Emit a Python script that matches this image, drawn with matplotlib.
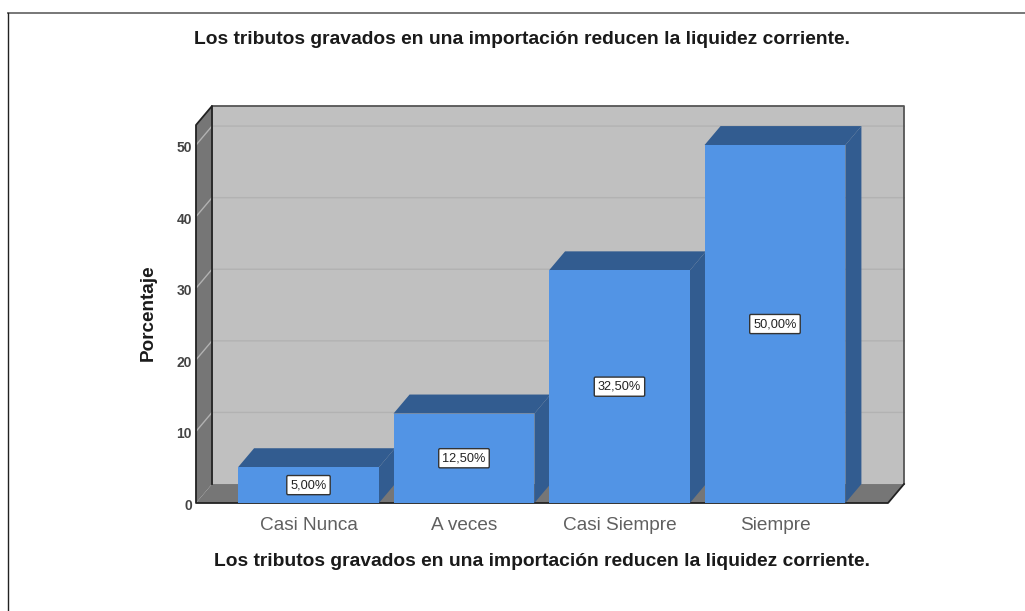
import matplotlib
matplotlib.use("Agg")
import matplotlib.pyplot as plt
from matplotlib.lines import Line2D
from matplotlib.patches import Polygon
from matplotlib.transforms import ScaledTranslation

plt.rcParams['font.family'] = ['Liberation Sans', 'DejaVu Sans']

categories = ["Casi Nunca", "A veces", "Casi Siempre", "Siempre"]
values = [5.0, 12.5, 32.5, 50.0]
bar_labels = ["5,00%", "12,50%", "32,50%", "50,00%"]
yticks = [0, 10, 20, 30, 40, 50]
title = "Los tributos gravados en una importación reducen la liquidez corriente."

W, H = 1025, 611
BLUE = "#5294e5"
DARK_BLUE = "#325c90"
WALL = "#c0c0c0"
SIDE = "#767676"

# depth of the fake 3D box, in data units
DX = 0.103
DY = 2.65
BAR_W = 0.906
XMIN, XMAX = -0.7235, 3.727
YMAX = 52.8

fig = plt.figure(figsize=(W / 100, H / 100), dpi=100)
ax = fig.add_axes([196 / W, 1 - 503 / H, 692 / W, 378 / H])
ax.set_xlim(XMIN, XMAX)
ax.set_ylim(0, YMAX)
ax.patch.set_visible(False)
for s in ax.spines.values():
    s.set_visible(False)


def poly(pts, color, z=1):
    ax.add_patch(Polygon(pts, closed=True, facecolor=color, edgecolor=color,
                         linewidth=0, zorder=z, clip_on=False))


# back wall, left wall, floor
poly([(XMIN + DX, DY), (XMAX + DX, DY), (XMAX + DX, YMAX + DY), (XMIN + DX, YMAX + DY)], WALL)
poly([(XMIN, 0), (XMIN + DX, DY), (XMIN + DX, YMAX + DY), (XMIN, YMAX)], SIDE)
poly([(XMIN, 0), (XMAX, 0), (XMAX + DX, DY), (XMIN + DX, DY)], SIDE)

# gridlines run along the side wall and then the back wall
for t in yticks[1:]:
    ax.plot([XMIN, XMIN + DX, XMAX + DX], [t, t + DY, t + DY], color="#b2b2b2", lw=1, zorder=2, clip_on=False)

# box outline, the left and bottom edges are darker than the top and right
ax.plot([XMAX + DX, XMAX + DX, XMIN + DX], [DY, YMAX + DY, YMAX + DY],
        color="#555555", lw=1.3, zorder=3, clip_on=False)
ax.plot([XMAX + DX, XMAX, XMIN, XMIN, XMIN + DX, XMIN + DX],
        [DY, 0, 0, YMAX, YMAX + DY, DY],
        color="#222222", lw=1.3, zorder=3, clip_on=False)

# bars with top and side faces
ax.bar(range(len(values)), values, width=BAR_W, color=BLUE, zorder=6)
for i, v in enumerate(values):
    l, r = i - BAR_W / 2, i + BAR_W / 2
    poly([(l, v), (r, v), (r + DX, v + DY), (l + DX, v + DY)], DARK_BLUE, z=5)
    poly([(r, 0), (r + DX, DY), (r + DX, v + DY), (r, v)], DARK_BLUE, z=5)
    ax.text(i, v / 2, bar_labels[i], ha="center", va="center", fontsize=9.2, color="#222222", zorder=8,
            bbox=dict(boxstyle="round,pad=0.28,rounding_size=0.1", facecolor="white", edgecolor="#333333", linewidth=1))

ax.set_xticks(range(len(categories)))
ax.set_xticklabels(categories, fontsize=13.7, color="#606060")
ax.set_yticks(yticks)
ax.set_yticklabels(yticks, fontsize=10, color="#444444", fontweight="bold")
ax.tick_params(axis="both", length=0)
ax.tick_params(axis="x", pad=10)
ax.tick_params(axis="y", pad=3)

# tick labels sit a little below their gridline start
shift = ScaledTranslation(0, -1.5 / 100, fig.dpi_scale_trans)
for lab in ax.get_yticklabels():
    lab.set_transform(lab.get_transform() + shift)

fig.text(522.5 / W, 1 - 39 / H, title, ha="center", va="center", fontsize=13.9, fontweight="bold", color="#1a1a1a")
fig.text(542.5 / W, 1 - 561 / H, title, ha="center", va="center", fontsize=13.9, fontweight="bold", color="#1a1a1a")
fig.text(148 / W, 1 - 313 / H, "Porcentaje", ha="center", va="center", rotation=90, fontsize=13.6, fontweight="bold", color="#1a1a1a")

# the page frame only shows along the top and the left
fig.add_artist(Line2D([8 / W, 1], [1 - 13 / H, 1 - 13 / H], transform=fig.transFigure, color="#777777", lw=1.4))
fig.add_artist(Line2D([8 / W, 8 / W], [1 - 13 / H, 0], transform=fig.transFigure, color="#222222", lw=1))

fig.savefig("out.png", dpi=100)
